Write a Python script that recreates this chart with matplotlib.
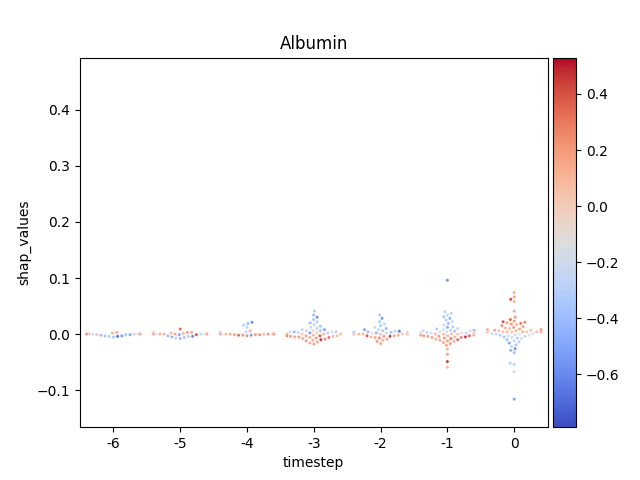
import matplotlib
matplotlib.use("Agg")
import matplotlib.pyplot as plt
import numpy as np
import pandas as pd
import seaborn as sns
from mpl_toolkits.axes_grid1 import make_axes_locatable

title = "Albumin"
timesteps = [-6, -5, -4, -3, -2, -1, 0]
vmin, vmax = -0.79, 0.53

shap_m6 = [0.000, 0.000, 0.001, 0.000, -0.001, 0.000, 0.000, 0.001, 0.000, 0.000,
           -0.001, 0.000, 0.000, 0.001, 0.000, 0.000, -0.001, 0.000, 0.000, 0.000,
           -0.002, -0.003, -0.003, -0.004, -0.004, -0.005, 0.002, 0.003, 0.002, 0.000,
           0.000, 0.001, 0.000, 0.000, 0.000, 0.000]
feat_m6 = [-0.35, -0.30, 0.15, -0.25, -0.40, 0.10, 0.45, 0.20, -0.20, 0.50,
           -0.55, 0.15, -0.30, 0.05, 0.25, -0.25, 0.10, 0.15, -0.70, 0.20,
           -0.45, -0.40, -0.60, -0.35, -0.75, -0.40, 0.15, 0.20, 0.10, 0.20,
           -0.30, 0.40, 0.15, -0.35, 0.15, 0.20]

shap_m5 = [0.000, 0.000, 0.000, 0.001, 0.000, -0.001, 0.000, 0.000, 0.001, 0.000,
           0.000, 0.000, -0.001, 0.000, 0.000, 0.001, 0.000, 0.000, 0.000, 0.000,
           0.009, 0.002, 0.003, 0.002, 0.003, -0.003, -0.004, -0.005, -0.006, -0.007,
           -0.008, -0.004, 0.000, 0.000, 0.000, 0.000, 0.001, 0.000]
feat_m5 = [-0.30, -0.35, 0.15, 0.20, -0.25, -0.55, 0.15, -0.30, 0.10, 0.25,
           -0.40, 0.15, 0.45, -0.30, 0.20, 0.15, -0.20, 0.20, 0.10, -0.60,
           0.40, 0.15, 0.25, 0.45, 0.20, -0.45, -0.35, -0.50, -0.40, -0.35,
           -0.45, -0.65, 0.15, -0.30, 0.20, 0.15, 0.10, 0.15]

shap_m4 = [0.000, 0.000, 0.000, -0.001, 0.000, 0.000, 0.000, 0.001, 0.000, 0.000,
           0.000, -0.001, 0.000, 0.000, 0.000, 0.000, -0.001, 0.000, 0.000, 0.000,
           0.021, 0.019, 0.016, 0.012, 0.006, 0.004, 0.003, 0.003, 0.002, 0.002,
           -0.002, -0.002, -0.003, -0.002, 0.000, 0.000]
feat_m4 = [0.15, 0.20, -0.30, 0.25, 0.15, -0.25, 0.20, -0.35, 0.15, 0.25,
           -0.30, 0.20, 0.10, 0.20, -0.20, 0.15, 0.25, 0.20, 0.15, 0.20,
           -0.65, -0.45, -0.35, -0.30, 0.15, -0.30, -0.40, -0.25, -0.35, -0.30,
           0.25, 0.40, 0.30, -0.60, 0.15, 0.20]

shap_m3 = [0.000, 0.000, 0.000, 0.000, 0.000, 0.000, 0.000, 0.000, 0.000, 0.000,
           0.000, 0.000, 0.000, 0.000, 0.000, 0.000, 0.000, 0.000, 0.000, 0.000,
           0.000, 0.000, 0.000, 0.000, 0.000, 0.000, 0.000, 0.000,
           0.041, 0.034, 0.030, 0.026, 0.022, 0.020, 0.017, 0.014, 0.012, 0.010,
           0.008, 0.008, 0.006, 0.006, 0.006, 0.004, 0.004, 0.004, 0.004, 0.003,
           0.002, 0.002, 0.002,
           -0.002, -0.003, -0.003, -0.003, -0.004, -0.004, -0.005, -0.006, -0.006, -0.007,
           -0.008, -0.009, -0.010, -0.011, -0.012, -0.014, -0.016, -0.018, -0.003, -0.005]
feat_m3 = [0.08, 0.10, 0.05, 0.12, 0.10, 0.06, 0.10, 0.05, 0.12, 0.08,
           0.10, 0.14, 0.06, 0.05, 0.10, 0.08, 0.12, 0.15, 0.06, 0.10,
           0.05, 0.12, 0.08, 0.10, 0.15, 0.06, 0.10, 0.05,
           -0.35, -0.45, -0.65, -0.40, -0.35, -0.45, -0.30, -0.40, -0.25, -0.35,
           -0.55, -0.30, -0.40, -0.05, -0.30, -0.25, -0.50, -0.35, -0.20, -0.30,
           -0.60, 0.05, -0.35,
           0.15, 0.20, 0.30, 0.45, 0.15, 0.25, 0.20, 0.35, 0.15, 0.25,
           0.20, 0.30, 0.50, 0.15, 0.25, 0.20, 0.15, 0.20, 0.12, 0.25]

shap_m2 = [0.000, 0.000, 0.000, 0.000, 0.000, 0.000, 0.000, 0.000, 0.000, 0.000,
           0.000, 0.000, 0.000, 0.000, 0.000, 0.000, 0.000, 0.000, 0.000, 0.000,
           0.000, 0.000, 0.000, 0.000, 0.000, 0.000,
           0.034, 0.028, 0.022, 0.018, 0.015, 0.012, 0.010, 0.008, 0.008, 0.006,
           0.005, 0.005, 0.004, 0.003, 0.003, 0.003, 0.002, 0.002, 0.002,
           -0.002, -0.003, -0.003, -0.004, -0.004, -0.005, -0.006, -0.007, -0.009,
           -0.011, -0.013, -0.017]
feat_m2 = [0.08, 0.12, 0.15, 0.05, 0.10, 0.08, 0.15, 0.10, 0.05, 0.12,
           0.08, 0.15, 0.10, 0.08, 0.05, 0.12, 0.15, 0.08, 0.10, 0.05,
           0.12, 0.08, 0.15, 0.10, 0.08, 0.12,
           -0.35, -0.60, -0.40, -0.30, -0.35, -0.25, -0.45, -0.30, -0.55, -0.40,
           -0.70, -0.30, -0.45, -0.25, -0.35, -0.40, -0.30, -0.05, -0.50,
           0.15, 0.45, 0.20, 0.25, 0.50, 0.15, 0.20, 0.30, 0.20,
           0.15, 0.25, 0.20]

shap_m1 = [0.000, 0.000, 0.000, 0.000, 0.000, 0.000, 0.000, 0.000, 0.000, 0.000,
           0.000, 0.000, 0.000, 0.000, 0.000, 0.000, 0.000, 0.000, 0.000, 0.000,
           0.000, 0.000, 0.000, 0.000, 0.000, 0.000, 0.000, 0.000, 0.000, 0.000,
           0.096, 0.040, 0.037, 0.034, 0.031, 0.028, 0.025, 0.022, 0.019, 0.016,
           0.013, 0.012, 0.010, 0.009, 0.008, 0.007, 0.006, 0.006, 0.005, 0.005,
           0.004, 0.004, 0.003, 0.003, 0.003, 0.002, 0.002, 0.002, 0.002,
           -0.002, -0.002, -0.003, -0.003, -0.003, -0.004, -0.004, -0.005, -0.005, -0.006,
           -0.006, -0.007, -0.008, -0.009, -0.010, -0.011, -0.012, -0.013, -0.015, -0.017,
           -0.020, -0.027, -0.036, -0.049, -0.059]
feat_m1 = [0.08, 0.12, 0.05, 0.10, 0.15, 0.08, 0.10, 0.05, 0.12, 0.08,
           0.10, 0.15, 0.08, 0.05, 0.12, 0.08, 0.10, 0.15, 0.06, 0.10,
           0.05, 0.12, 0.08, 0.10, 0.15, 0.06, 0.10, 0.05, -0.15, -0.20,
           -0.62, -0.30, -0.35, -0.30, -0.40, -0.50, -0.35, -0.30, -0.45, -0.25,
           -0.35, -0.55, -0.30, -0.40, -0.20, -0.35, -0.70, -0.30, -0.15, -0.40,
           -0.25, -0.20, -0.30, -0.10, -0.35, -0.20, -0.15, -0.25, -0.30,
           0.15, 0.20, 0.25, 0.15, 0.40, 0.20, 0.25, 0.50, 0.15, 0.30,
           0.20, 0.25, 0.35, 0.15, 0.40, 0.20, 0.25, 0.15, 0.20, 0.25,
           0.20, 0.15, 0.20, 0.50, 0.15]

shap_0 = [0.004, 0.004, 0.004, 0.004, 0.004, 0.004, 0.004, 0.004, 0.004, 0.004,
          0.004, 0.004, 0.004, 0.004, 0.004, 0.004, 0.004, 0.004, 0.004, 0.004,
          0.004, 0.004, 0.004, 0.004, 0.004, 0.004, 0.004, 0.004,
          0.074, 0.066, 0.062, 0.058, 0.041, 0.030, 0.026, 0.023, 0.022, 0.021,
          0.020, 0.019, 0.018, 0.017, 0.015, 0.013, 0.012, 0.011, 0.010, 0.009,
          0.008, 0.008, 0.007, 0.007, 0.006, 0.006,
          0.001, 0.001, 0.000, 0.000, -0.001, -0.002, -0.002, -0.003, -0.004, -0.005,
          -0.006, -0.007, -0.008, -0.010, -0.012, -0.014, -0.016, -0.019, -0.022, -0.026,
          -0.029, -0.033, -0.052, -0.054, -0.067, -0.116]
feat_0 = [0.08, 0.12, 0.05, 0.10, 0.15, 0.08, 0.10, 0.05, 0.12, 0.08,
          0.10, 0.15, 0.08, 0.05, 0.12, 0.08, 0.10, 0.15, 0.06, 0.10,
          0.05, 0.12, 0.08, 0.10, 0.15, 0.06, 0.10, 0.05,
          0.15, 0.20, 0.48, 0.15, 0.20, 0.25, 0.40, 0.25, 0.45, 0.30,
          0.20, 0.35, 0.25, 0.15, 0.30, 0.20, 0.25, 0.15, 0.10, 0.20,
          0.15, 0.25, 0.08, 0.20, 0.15, 0.10,
          -0.20, -0.15, -0.30, -0.10, -0.25, -0.35, -0.15, -0.20, -0.30, -0.40,
          -0.25, -0.35, -0.20, -0.45, -0.30, -0.35, -0.55, -0.40, -0.30, -0.65,
          -0.50, -0.45, -0.35, -0.30, -0.25, -0.55]

shap_lists = [shap_m6, shap_m5, shap_m4, shap_m3, shap_m2, shap_m1, shap_0]
feat_lists = [feat_m6, feat_m5, feat_m4, feat_m3, feat_m2, feat_m1, feat_0]

rows = []
for t, s_list, f_list in zip(timesteps, shap_lists, feat_lists):
    for s, f in zip(s_list, f_list):
        rows.append((t, s, f))
df = pd.DataFrame(rows, columns=["timestep", "shap_values", "feature"])

fig, ax = plt.subplots(figsize=(6.4, 4.8), dpi=100)
sns.swarmplot(data=df, x="timestep", y="shap_values", hue="feature",
              palette="coolwarm", hue_norm=(vmin, vmax), order=timesteps,
              size=2.5, linewidth=0.4, edgecolor="white", alpha=0.85,
              legend=False, ax=ax)
ax.set_ylim(-0.166, 0.493)
ax.set_title(title)
ax.set_xlabel("timestep")
ax.set_ylabel("shap_values")

divider = make_axes_locatable(ax)
cax = divider.append_axes("right", size="5%", pad=0.05)
sm = plt.cm.ScalarMappable(cmap="coolwarm", norm=plt.Normalize(vmin, vmax))
sm.set_array([])
fig.colorbar(sm, cax=cax)

fig.savefig("out.png", dpi=100)
